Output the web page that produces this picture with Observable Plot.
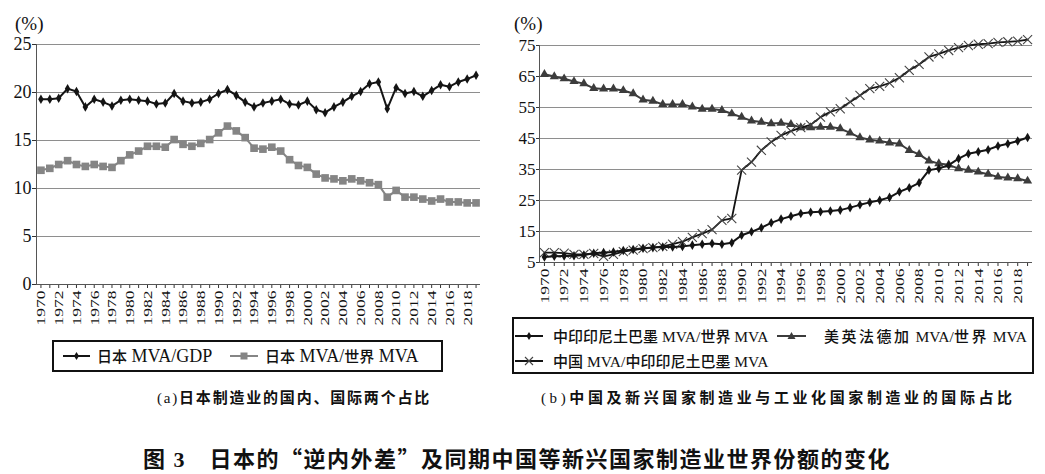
<!DOCTYPE html>
<html><head><meta charset="utf-8">
<script src="https://cdn.jsdelivr.net/npm/d3@7"></script>
<script src="https://cdn.jsdelivr.net/npm/@observablehq/plot@0.6"></script>
<style>
html,body{margin:0;padding:0;background:#fff;}
body{width:1045px;height:474px;position:relative;overflow:hidden;font-family:"Liberation Serif","Noto Sans CJK SC",serif;color:#111;}
.abs{position:absolute;}
.cn{font-family:"Noto Sans CJK SC",sans-serif;}
.lg{line-height:20px;white-space:nowrap;}
.lg .cn{font-weight:500;font-size:15px;}
.lgL{font-size:18px;}
.lgR{font-size:15.5px;}
#lg4 .cn{letter-spacing:2.5px;}
.box{border:2px solid #111;box-sizing:border-box;}
.cap{font-size:15px;white-space:nowrap;line-height:20px;}
.cap .cn{font-weight:bold;}
.unit{font-size:19px;line-height:20px;}
.title{font-size:22px;font-weight:bold;white-space:nowrap;line-height:24px;letter-spacing:1.5px;}
</style></head><body>
<div id="left" class="abs" style="left:0;top:0"></div>
<div id="right" class="abs" style="left:505px;top:0"></div>
<div class="abs unit" style="left:15px;top:14px">(%)</div>
<div class="abs unit" style="left:514px;top:14px">(%)</div>

<div class="abs box" style="left:52px;top:340px;width:391px;height:32px"></div>
<div id="lg1" class="abs lg lgL" style="left:62px;top:346px"></div>
<div id="lg2" class="abs lg lgL" style="left:229px;top:346px"></div>

<div class="abs box" style="left:512px;top:317px;width:522px;height:57px"></div>
<div id="lg3" class="abs lg lgR" style="left:514px;top:326px"></div>
<div id="lg4" class="abs lg lgR" style="left:776px;top:326px"></div>
<div id="lg5" class="abs lg lgR" style="left:514px;top:351px"></div>

<div class="abs cap" style="left:157px;top:387px;letter-spacing:1.8px">(a)<span class="cn">日本制造业的国内、国际两个占比</span></div>
<div class="abs cap" style="left:541px;top:387px;letter-spacing:3.6px">(b)<span class="cn">中国及新兴国家制造业与工业化国家制造业的国际占比</span></div>
<div class="abs title" style="left:143px;top:445px"><span class="cn">图</span> 3　<span class="cn">日本的“逆内外差”及同期中国等新兴国家制造业世界份额的变化</span></div>

<script>
const years = [1970,1971,1972,1973,1974,1975,1976,1977,1978,1979,
  1980,1981,1982,1983,1984,1985,1986,1987,1988,1989,
  1990,1991,1992,1993,1994,1995,1996,1997,1998,1999,
  2000,2001,2002,2003,2004,2005,2006,2007,2008,2009,
  2010,2011,2012,2013,2014,2015,2016,2017,2018,2019];
const xTickLabels = ["1970","1972","1974","1976","1978","1980","1982","1984","1986","1988",
  "1990","1992","1994","1996","1998","2000","2002","2004","2006","2008","2010","2012","2014","2016","2018"];
const leftYTicks = [0,5,10,15,20,25];
const rightYTicks = [5,15,25,35,45,55,65,75];

// (a) 日本 MVA/GDP
const jpGdp = [19.3,19.3,19.4,20.4,20.1,18.5,19.3,19.0,18.6,19.2,
  19.3,19.2,19.1,18.8,18.9,19.9,19.1,18.9,19.0,19.3,
  19.9,20.3,19.7,19.0,18.5,18.9,19.1,19.3,18.8,18.7,
  19.1,18.2,17.9,18.5,19.0,19.6,20.1,20.9,21.1,18.3,
  20.5,19.9,20.1,19.6,20.2,20.8,20.6,21.1,21.4,21.8];
// (a) 日本 MVA/世界 MVA
const jpWorld = [11.9,12.1,12.5,12.9,12.5,12.3,12.5,12.3,12.2,12.9,
  13.5,13.9,14.4,14.4,14.3,15.1,14.6,14.4,14.7,15.1,
  15.8,16.5,16.0,15.3,14.2,14.1,14.3,13.9,13.0,12.4,
  12.2,11.5,11.1,11.0,10.8,11.0,10.8,10.6,10.4,9.1,
  9.8,9.1,9.1,8.9,8.7,8.9,8.6,8.6,8.5,8.5];
// (b) 中印印尼土巴墨 MVA/世界 MVA
const emergingWorld = [6.8,7.0,7.1,7.2,7.4,8.0,8.2,8.4,8.9,9.2,
  9.6,9.8,10.0,10.0,10.2,10.6,10.9,11.1,10.9,11.4,
  13.8,14.9,16.2,17.8,19.0,19.9,20.8,21.2,21.4,21.6,
  21.9,22.7,23.6,24.4,25.1,26.0,27.8,29.1,30.7,34.8,
  35.3,36.4,38.5,40.1,40.7,41.4,42.6,43.3,44.2,45.3];
// (b) 美英法德加 MVA/世界 MVA
const g5World = [65.7,65.0,64.3,63.4,62.7,61.2,61.0,61.0,60.5,59.5,
  57.5,57.1,56.0,56.0,56.0,55.2,54.5,54.5,54.1,53.0,
  51.9,50.7,50.3,49.8,50.0,49.6,48.5,48.5,48.7,48.7,
  48.2,46.8,45.3,44.6,44.2,43.6,43.3,41.2,39.9,37.8,
  36.9,36.5,35.3,34.8,34.2,33.5,32.6,32.3,32.1,31.3];
// (b) 中国 MVA/中印印尼土巴墨 MVA
const chinaEmerging = [8.2,8.2,8.0,7.6,7.6,7.9,7.0,7.6,8.5,9.0,
  9.5,9.8,10.2,10.9,11.7,13.1,14.3,15.6,18.6,19.2,
  34.8,37.4,41.2,43.9,46.0,47.4,48.5,49.4,51.9,53.6,
  54.6,56.8,58.9,61.1,61.8,62.9,64.6,67.0,68.9,71.3,
  72.3,73.4,74.3,75.0,75.4,75.6,76.0,76.2,76.4,76.9];

const legendNames = {
  jpGdp: ["日本", " MVA/GDP"],
  jpWorld: ["日本", " MVA/世界 MVA"],
  emergingWorld: ["中印印尼土巴墨", " MVA/世界 MVA"],
  g5World: ["美英法德加", " MVA/世界 MVA"],
  chinaEmerging: ["中国", " MVA/中印印尼土巴墨 MVA"]
};

const tidy = arr => years.map((y, i) => ({year: y, value: arr[i]}));

const BLACK = "#141414", GRAY = "#858585", DARK = "#3c3c3c", GRID = "#8e8e8e";

function stretchLabels(svg) {
  svg.querySelectorAll('g[aria-label="x-axis tick label"] text').forEach(t => {
    const tr = t.getAttribute("transform");
    if (tr && tr.includes("rotate")) t.setAttribute("transform", tr + " scale(1.3,1)");
  });
}

function xAxis(fs) {
  return Plot.axisX({ticks: years, tickFormat: d => xTickLabels.includes(String(d)) ? String(d) : "",
    tickRotate: -90, tickSize: 4, tickPadding: 2, fontSize: fs, stroke: "#333", fill: "#111", label: null});
}

const left = Plot.plot({
  width: 500, height: 340,
  marginLeft: 36, marginRight: 20, marginTop: 44, marginBottom: 56,
  style: {fontFamily: "Liberation Serif", background: "white", overflow: "visible"},
  x: {type: "point", domain: years, padding: 0.5, label: null},
  y: {domain: [0, 25], label: null},
  marks: [
    Plot.gridY(leftYTicks, {stroke: GRID, strokeOpacity: 1, strokeWidth: 1.2}),
    Plot.axisY(leftYTicks, {tickSize: 4, tickPadding: 1, fontSize: 18, stroke: "#333", fill: "#111", label: null}),
    xAxis(13.5),
    Plot.frame({anchor: "left", stroke: "#555"}),
    Plot.ruleY([0], {stroke: "#555"}),
    Plot.line(tidy(jpWorld), {x: "year", y: "value", stroke: GRAY, strokeWidth: 2}),
    Plot.dot(tidy(jpWorld), {x: "year", y: "value", symbol: "square", r: 4.3, fill: GRAY}),
    Plot.line(tidy(jpGdp), {x: "year", y: "value", stroke: BLACK, strokeWidth: 2}),
    Plot.dot(tidy(jpGdp), {x: "year", y: "value", symbol: "diamond", r: 2.9, fill: BLACK})
  ]
});
stretchLabels(left);
document.getElementById("left").append(left);

const right = Plot.plot({
  width: 537, height: 310,
  marginLeft: 34, marginRight: 10, marginTop: 45, marginBottom: 48,
  style: {fontFamily: "Liberation Serif", background: "white", overflow: "visible"},
  x: {type: "point", domain: years, padding: 0.5, label: null},
  y: {domain: [5, 75], label: null},
  marks: [
    Plot.gridY(rightYTicks, {stroke: GRID, strokeOpacity: 1, strokeWidth: 1.2}),
    Plot.axisY(rightYTicks, {tickSize: 3, tickPadding: 1, fontSize: 17, stroke: "#333", fill: "#111", label: null}),
    xAxis(13.5),
    Plot.frame({anchor: "left", stroke: "#555"}),
    Plot.ruleY([5], {stroke: "#555"}),
    Plot.line(tidy(g5World), {x: "year", y: "value", stroke: DARK, strokeWidth: 2}),
    Plot.dot(tidy(g5World), {x: "year", y: "value", symbol: "triangle", r: 3.4, fill: DARK}),
    Plot.line(tidy(chinaEmerging), {x: "year", y: "value", stroke: BLACK, strokeWidth: 1.8}),
    Plot.dot(tidy(chinaEmerging), {x: "year", y: "value", symbol: "times", r: 4.2, stroke: "#444", strokeWidth: 1.1}),
    Plot.line(tidy(emergingWorld), {x: "year", y: "value", stroke: BLACK, strokeWidth: 2}),
    Plot.dot(tidy(emergingWorld), {x: "year", y: "value", symbol: "diamond", r: 2.9, fill: BLACK})
  ]
});
stretchLabels(right);
document.getElementById("right").append(right);

// legend samples
function sample(kind, w) {
  const h = 20;
  let s = `<svg width="${w}" height="${h}" style="vertical-align:top;margin-right:6px">`;
  const col = kind === "square" ? GRAY : (kind === "triangle" ? DARK : BLACK);
  s += `<line x1="1" x2="${w-1}" y1="10" y2="10" stroke="${col}" stroke-width="2"/>`;
  const cx = w/2, cy = 10;
  if (kind === "diamond") s += `<path d="M${cx},${cy-4}L${cx+2.5},${cy}L${cx},${cy+4}L${cx-2.5},${cy}Z" fill="${col}"/>`;
  if (kind === "square") s += `<rect x="${cx-3.5}" y="${cy-3.5}" width="7" height="7" fill="${col}"/>`;
  if (kind === "triangle") s += `<path d="M${cx},${cy-4}L${cx+4},${cy+3}L${cx-4},${cy+3}Z" fill="${col}"/>`;
  if (kind === "times") s += `<path d="M${cx-4},${cy-4}L${cx+4},${cy+4}M${cx+4},${cy-4}L${cx-4},${cy+4}" stroke="#444" stroke-width="1.1"/>`;
  return s + "</svg>";
}
function legend(id, kind, key, w, gap) {
  const [cn, rest] = legendNames[key];
  document.getElementById(id).innerHTML = sample(kind, w).replace("margin-right:6px", `margin-right:${gap}px`) +
    `<span class="cn">${cn}</span>${rest.replace(/世界|中印印尼土巴墨/g, m => `<span class="cn">${m}</span>`)}`;
}
legend("lg1", "diamond", "jpGdp", 29, 6);
legend("lg2", "square", "jpWorld", 30, 6);
legend("lg3", "diamond", "emergingWorld", 30, 9);
legend("lg4", "triangle", "g5World", 31, 17);
legend("lg5", "times", "chinaEmerging", 30, 9);
</script>
</body></html>
